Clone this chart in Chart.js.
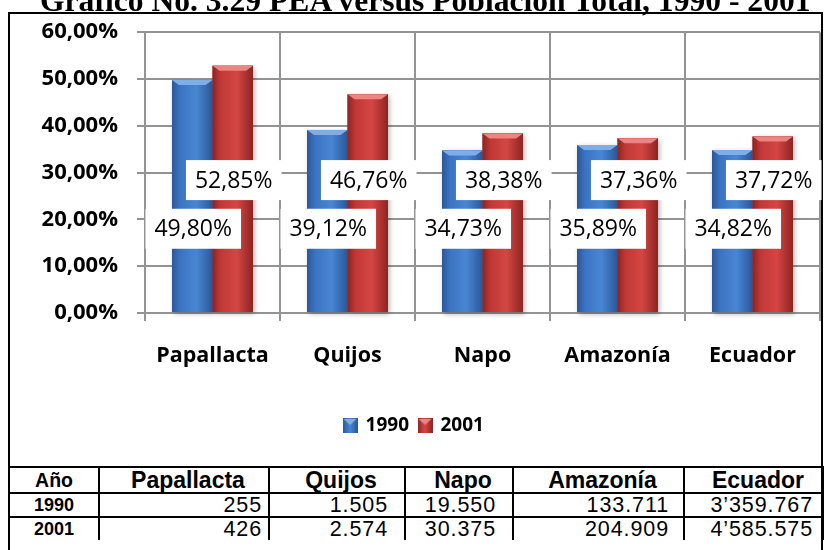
<!DOCTYPE html>
<html lang="es">
<head>
  <meta charset="UTF-8">
  <title>PEA versus Población Total, 1990 - 2001</title>
  <style>
    body {
      margin: 0;
      width: 824px;
      height: 550px;
      overflow: hidden;
      background: #fff;
      position: relative;
    }
    #frame {
      position: absolute;
      left: 8px;
      top: 12px;
      width: 815px;
      height: 560px;
      border: 2px solid #000;
      box-sizing: border-box;
    }
    #title {
      position: absolute;
      left: 40px;
      top: -15px;
      font-family: "Liberation Serif", serif;
      font-weight: bold;
      font-size: 31.6px;
      line-height: 31px;
      white-space: nowrap;
      color: #000;
      z-index: 3;
    }
    #chart-box {
      position: absolute;
      left: 0;
      top: 0;
      z-index: 2;
    }
    #data-table {
      position: absolute;
      left: 8px;
      top: 466px;
      width: 815px;
      border-collapse: collapse;
      table-layout: fixed;
      font-family: "Liberation Sans", Arial, sans-serif;
      z-index: 2;
    }
    #data-table td {
      border: 2px solid #000;
      padding: 0 12px 0 0;
      text-align: right;
      font-size: 21.5px;
      letter-spacing: 0.9px;
      height: 22px;
      line-height: 22px;
    }
    #data-table td:nth-child(2) { padding-right: 6px; }
    #data-table td:nth-child(3) { padding-right: 16px; }
    #data-table td:nth-child(4) { padding-right: 16px; }
    #data-table td:nth-child(5) { padding-right: 14px; }
    #data-table td:nth-child(6) { padding-right: 10px; }
    #data-table tr:first-child td {
      font-weight: bold;
      font-size: 23px;
      letter-spacing: 0;
      text-align: center;
      padding: 0 0 0 8px;
      height: 24px;
    }
    #data-table tr td:first-child {
      font-weight: bold;
      font-size: 18px;
      letter-spacing: 0;
      text-align: center;
      padding: 0;
    }
    #data-table tr:first-child td:first-child {
      font-size: 19.5px;
    }
    #data-table tr:last-child td {
      border-bottom: none;
    }
  </style>
</head>
<body>
  <div id="frame"></div>
  <div id="title">Gráfico No. 3.29 PEA versus Población Total, 1990 - 2001</div>
  <div id="chart-box"><canvas id="pea-chart" width="824" height="465"></canvas></div>
  <table id="data-table">
    <colgroup>
      <col style="width:90px"><col style="width:170px"><col style="width:136px">
      <col style="width:108px"><col style="width:171px"><col style="width:140px">
    </colgroup>
    <tbody id="table-body"></tbody>
  </table>

  <script src="https://cdn.jsdelivr.net/npm/chart.js"></script>
  <script>
    // chart data
    const categories = ['Papallacta', 'Quijos', 'Napo', 'Amazonía', 'Ecuador'];
    const seriesNames = ['1990', '2001'];
    const pea1990 = [49.80, 39.12, 34.73, 35.89, 34.82];
    const pea2001 = [52.85, 46.76, 38.38, 37.36, 37.72];

    // table under the chart
    const tableHeader = ['Año', 'Papallacta', 'Quijos', 'Napo', 'Amazonía', 'Ecuador'];
    const table1990 = ['255', '1.505', '19.550', '133.711', '3’359.767'];
    const table2001 = ['426', '2.574', '30.375', '204.909', '4’585.575'];

    const shades = [
      { dark: '#2b5799', mid: '#3b74c1', light: '#4886d4', top: '#7eaee8' },
      { dark: '#8c2422', mid: '#c03836', light: '#d44643', top: '#ec8480' }
    ];
    // where the value boxes sit on the y scale (moved by hand in the original)
    const labelAt = [18, 28.4];
    const FONT = '"Open Sans", Lato, sans-serif';

    function pct(v) {
      return v.toFixed(2).replace('.', ',') + '%';
    }

    // fill the table
    function buildTable() {
      const body = document.getElementById('table-body');
      [tableHeader, [seriesNames[0]].concat(table1990), [seriesNames[1]].concat(table2001)].forEach(row => {
        const tr = document.createElement('tr');
        row.forEach(cell => {
          const td = document.createElement('td');
          td.textContent = cell;
          tr.appendChild(td);
        });
        body.appendChild(tr);
      });
    }

    // small gradient squares for the legend
    function swatch(s) {
      const c = document.createElement('canvas');
      c.width = 15; c.height = 15;
      const g = c.getContext('2d');
      const gr = g.createLinearGradient(0, 0, 15, 0);
      gr.addColorStop(0, s.dark); gr.addColorStop(0.5, s.light); gr.addColorStop(1, s.dark);
      g.fillStyle = gr;
      g.fillRect(0, 0, 15, 15);
      g.fillStyle = s.top;
      g.beginPath(); g.moveTo(1, 1); g.lineTo(14, 1); g.lineTo(7.5, 7); g.closePath(); g.fill();
      return c;
    }

    // bevelled bars + boxed value labels
    const barDecor = {
      id: 'barDecor',
      afterDatasetsDraw(chart) {
        const ctx = chart.ctx;
        const yScale = chart.scales.y;
        chart.data.datasets.forEach((ds, di) => {
          const s = shades[di];
          chart.getDatasetMeta(di).data.forEach(bar => {
            const p = bar.getProps(['x', 'y', 'base', 'width'], true);
            const l = p.x - p.width / 2, r = p.x + p.width / 2;
            ctx.save();
            ctx.shadowColor = 'rgba(0,0,0,0.3)';
            ctx.shadowBlur = 5;
            ctx.shadowOffsetX = 2;
            ctx.shadowOffsetY = 2;
            const g = ctx.createLinearGradient(l, 0, r, 0);
            g.addColorStop(0, s.dark);
            g.addColorStop(0.2, s.mid);
            g.addColorStop(0.6, s.light);
            g.addColorStop(1, s.dark);
            ctx.fillStyle = g;
            ctx.fillRect(l, p.y, p.width, p.base - p.y);
            ctx.restore();
            ctx.fillStyle = s.top;
            ctx.beginPath();
            ctx.moveTo(l, p.y);
            ctx.lineTo(r, p.y);
            ctx.lineTo(r - 7, p.y + 5);
            ctx.lineTo(l + 7, p.y + 5);
            ctx.closePath();
            ctx.fill();
          });
        });
        ctx.save();
        ctx.font = '23px ' + FONT;
        ctx.textAlign = 'center';
        ctx.textBaseline = 'middle';
        chart.data.datasets.forEach((ds, di) => {
          chart.getDatasetMeta(di).data.forEach((bar, i) => {
            const text = pct(ds.data[i]);
            const w = ctx.measureText(text).width + 18;
            const cy = yScale.getPixelForValue(labelAt[di]);
            ctx.fillStyle = '#fff';
            ctx.fillRect(bar.x + 1 - w / 2, cy - 20, w, 40);
            ctx.fillStyle = '#000';
            ctx.fillText(text, bar.x + 1, cy + 1);
          });
        });
        ctx.restore();
      }
    };

    function initChart() {
      const swatches = shades.map(swatch);
      const gridColor = '#939393';
      new Chart(document.getElementById('pea-chart'), {
        type: 'bar',
        data: {
          labels: categories,
          datasets: [
            { label: seriesNames[0], data: pea1990, backgroundColor: shades[0].mid, categoryPercentage: 0.6, barPercentage: 1 },
            { label: seriesNames[1], data: pea2001, backgroundColor: shades[1].mid, categoryPercentage: 0.6, barPercentage: 1 }
          ]
        },
        options: {
          responsive: false,
          animation: false,
          layout: { padding: { left: 8, right: 4, top: 32, bottom: 20 } },
          plugins: {
            tooltip: { enabled: false },
            legend: {
              position: 'bottom',
              labels: {
                usePointStyle: true,
                boxWidth: 12,
                boxHeight: 15,
                padding: 10,
                color: '#000',
                font: { family: FONT, weight: 'bold', size: 19 },
                generateLabels: chart => chart.data.datasets.map((ds, i) => ({
                  text: ds.label,
                  pointStyle: swatches[i],
                  fillStyle: shades[i].mid,
                  strokeStyle: 'transparent',
                  lineWidth: 0,
                  hidden: false,
                  datasetIndex: i
                }))
              }
            }
          },
          scales: {
            x: {
              afterFit: scale => { scale.height = 93; },
              grid: { color: gridColor, lineWidth: 2, offset: true, tickLength: 8 },
              border: { color: gridColor, width: 2 },
              ticks: { color: '#000', padding: 22, font: { family: FONT, weight: 'bold', size: 21.5 } }
            },
            y: {
              min: 0,
              max: 60,
              afterFit: scale => { scale.width = 137; },
              grid: { color: gridColor, lineWidth: 2, tickLength: 8 },
              border: { color: gridColor, width: 2 },
              ticks: {
                stepSize: 10,
                color: '#000',
                padding: 19,
                font: { family: FONT, weight: 'bold', size: 22 },
                callback: v => pct(v)
              }
            }
          }
        },
        plugins: [barDecor]
      });
    }

    buildTable();
    Promise.all([
      document.fonts.load('bold 19px "Open Sans"'),
      document.fonts.load('20px "Open Sans"')
    ]).then(initChart, initChart);
  </script>
</body>
</html>
